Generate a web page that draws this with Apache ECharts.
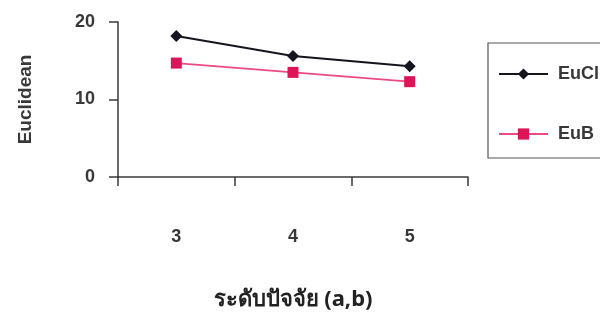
<!DOCTYPE html>
<html>
<head>
<meta charset="utf-8">
<script src="https://cdn.jsdelivr.net/npm/echarts@6/dist/echarts.min.js"></script>
<style>
  html, body { margin: 0; padding: 0; background: #fff; }
  #chart { width: 600px; height: 329px; }
</style>
</head>
<body>
<div id="chart"></div>
<script>
// Factor levels on the x axis
const levels = ['3', '4', '5'];
// Euclidean distance per level
const euClValues = [18.2, 15.6, 14.3];
const euBValues = [14.7, 13.5, 12.3];
// Y axis ticks
const yTicks = [0, 10, 20];

const axisColor = '#3a3a3a';
const textColor = '#383838';
const textFont = 'Liberation Sans, Arial, sans-serif';

const chart = echarts.init(document.getElementById('chart'), null, { renderer: 'canvas' });

chart.setOption({
  backgroundColor: '#ffffff',
  animation: false,
  grid: { left: 118, right: 132, top: 22, bottom: 152, containLabel: false },
  legend: {
    orient: 'vertical',
    left: 488,
    top: 43,
    itemWidth: 49,
    itemHeight: 14,
    itemGap: 42,
    padding: [22, 60, 15, 10],
    borderColor: '#555',
    borderWidth: 1.2,
    borderRadius: 0,
    textStyle: { fontFamily: textFont, fontSize: 18, fontWeight: 'bold', color: textColor, padding: [0, 0, 0, 5] },
    data: ['EuCl', 'EuB']
  },
  xAxis: {
    type: 'category',
    data: levels,
    boundaryGap: true,
    axisLine: { show: true, lineStyle: { color: axisColor, width: 1.5 } },
    axisTick: { show: true, length: 9, lineStyle: { color: axisColor, width: 1.5 } },
    axisLabel: { margin: 51, fontFamily: textFont, fontSize: 18, fontWeight: 'bold', color: textColor },
    name: 'ระดับปัจจัย (a,b)',
    nameLocation: 'middle',
    nameGap: 112,
    nameTextStyle: { fontFamily: 'Noto Sans, Liberation Sans, sans-serif', fontSize: 22, fontWeight: 'bold', color: '#222' }
  },
  yAxis: {
    type: 'value',
    min: yTicks[0],
    max: yTicks[yTicks.length - 1],
    interval: 10,
    axisLine: { show: true, lineStyle: { color: axisColor, width: 1.5 } },
    axisTick: { show: true, length: 9, lineStyle: { color: axisColor, width: 1.5 } },
    splitLine: { show: false },
    axisLabel: { margin: 23, fontFamily: textFont, fontSize: 18, fontWeight: 'bold', color: textColor },
    name: 'Euclidean',
    nameLocation: 'middle',
    nameGap: 83,
    nameTextStyle: { fontFamily: textFont, fontSize: 19, fontWeight: 'bold', color: textColor }
  },
  series: [
    {
      name: 'EuCl',
      type: 'line',
      data: euClValues,
      symbol: 'diamond',
      symbolSize: 12,
      lineStyle: { color: '#151520', width: 2 },
      itemStyle: { color: '#151520' }
    },
    {
      name: 'EuB',
      type: 'line',
      data: euBValues,
      symbol: 'rect',
      symbolSize: 11,
      lineStyle: { color: '#ec4a80', width: 1.8 },
      itemStyle: { color: '#dc1556' }
    }
  ]
});
</script>
</body>
</html>
